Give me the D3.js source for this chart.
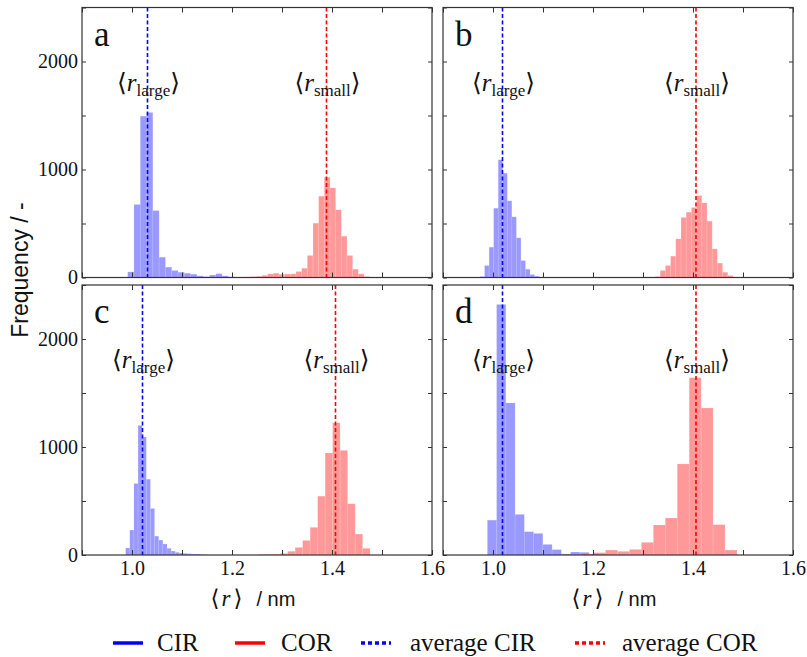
<!DOCTYPE html>
<html>
<head>
<meta charset="utf-8">
<script src="https://cdn.jsdelivr.net/npm/d3@7"></script>
<style>
  html, body { margin: 0; padding: 0; background: #fff; }
  svg { display: block; }
  .serif { font-family: "Liberation Serif", "Times New Roman", "DejaVu Serif", serif; }
  .sans { font-family: "Liberation Sans", Arial, sans-serif; }
</style>
</head>
<body>
<script>
// ---------------- DATA ----------------
const panelLetters = ["a", "b", "c", "d"];

// CIR histograms (blue): first bin start, bin width, counts
const cirStart = [0.9913, 0.974, 0.9873, 0.9887];
const cirWidth = [0.0126, 0.0091, 0.00827, 0.0185];
const cirCounts = [
  [52, 676, 1494, 1528, 620, 188, 96, 65, 49, 40, 31, 15, 9, 23, 35, 15, 6, 4, 3, 2, 2],
  [9, 111, 281, 642, 1090, 966, 710, 562, 367, 157, 77, 28, 12, 5, 2],
  [65, 231, 662, 1200, 1092, 702, 431, 175, 138, 102, 62, 37, 25, 18, 15, 12, 9, 9, 5, 3],
  [323, 2320, 1408, 376, 216, 200, 98, 50, 10, 28, 25, 8, 4]
];

// COR histograms (red)
const corStart = [1.2147, 1.3136, 1.2513, 1.1773];
const corWidth = [0.01133, 0.0104, 0.015, 0.0239];
const corCounts = [
  [5, 6, 8, 12, 20, 34, 40, 30, 32, 34, 55, 86, 204, 503, 753, 929, 830, 627, 383, 204, 77, 34, 9],
  [3, 9, 65, 111, 198, 358, 556, 605, 648, 759, 691, 522, 265, 133, 49, 19],
  [6, 7, 9, 14, 35, 70, 135, 256, 545, 945, 1225, 969, 474, 194, 62],
  [10, 22, 46, 34, 52, 117, 278, 343, 843, 1642, 1361, 281, 46]
];

// averages (dashed lines)
const cirMean = [1.031, 1.019, 1.021, 1.019];
const corMean = [1.389, 1.406, 1.407, 1.406];

const xDomain = [0.9, 1.6];
const yDomain = [0, 2500];
const xTickLabels = [1.0, 1.2, 1.4, 1.6];
const xMinorTicks = [0.9, 1.0, 1.1, 1.2, 1.3, 1.4, 1.5, 1.6];
const yTickLabels = [0, 1000, 2000];
const yMinorTicks = [0, 500, 1000, 1500, 2000, 2500];

const legendLabels = ["CIR", "COR", "average CIR", "average COR"];

// ---------------- LAYOUT ----------------
const W = 807, H = 657;
const panelLeft = [82, 443, 82, 443];
const panelTop = [7.5, 7.5, 285, 285];
const PW = 350, PH = 270;
const BLUE = "#0000ff", RED = "#ff0000";

const svg = d3.select("body").append("svg").attr("width", W).attr("height", H);

panelLetters.forEach((letter, i) => {
  const L = panelLeft[i], T = panelTop[i];
  const x = d3.scaleLinear().domain(xDomain).range([L, L + PW]);
  const y = d3.scaleLinear().domain(yDomain).range([T + PH, T]);
  const g = svg.append("g");

  const clipId = "clip" + i;
  svg.append("clipPath").attr("id", clipId).append("rect")
    .attr("x", L).attr("y", T).attr("width", PW).attr("height", PH);

  const bars = g.append("g").attr("clip-path", `url(#${clipId})`);

  const cirBins = cirCounts[i].map((c, k) => ({ x0: cirStart[i] + k * cirWidth[i], x1: cirStart[i] + (k + 1) * cirWidth[i], c }));
  const corBins = corCounts[i].map((c, k) => ({ x0: corStart[i] + k * corWidth[i], x1: corStart[i] + (k + 1) * corWidth[i], c }));

  bars.selectAll("rect.cir").data(cirBins).join("rect").attr("class", "cir")
    .attr("x", d => x(d.x0)).attr("width", d => x(d.x1) - x(d.x0))
    .attr("y", d => y(d.c)).attr("height", d => y(0) - y(d.c))
    .attr("fill", BLUE).attr("fill-opacity", 0.4)
    .attr("stroke", "#fff").attr("stroke-opacity", 0.22).attr("stroke-width", 0.6);

  bars.selectAll("rect.cor").data(corBins).join("rect").attr("class", "cor")
    .attr("x", d => x(d.x0)).attr("width", d => x(d.x1) - x(d.x0))
    .attr("y", d => y(d.c)).attr("height", d => y(0) - y(d.c))
    .attr("fill", RED).attr("fill-opacity", 0.4)
    .attr("stroke", "#fff").attr("stroke-opacity", 0.22).attr("stroke-width", 0.6);

  // dashed average lines
  [[cirMean[i], BLUE], [corMean[i], RED]].forEach(([m, col]) => {
    g.append("line").attr("x1", x(m)).attr("x2", x(m)).attr("y1", T).attr("y2", T + PH)
      .attr("stroke", col).attr("stroke-width", 1.6).attr("stroke-dasharray", "4,2.5");
  });

  // ticks (inward, mirrored)
  const tickStyle = sel => { sel.select(".domain").remove(); sel.selectAll("line").attr("stroke", "#333"); };
  g.append("g").attr("transform", `translate(0,${T + PH})`)
    .call(d3.axisBottom(x).tickValues(xMinorTicks).tickSize(-5).tickFormat("")).call(tickStyle);
  g.append("g").attr("transform", `translate(0,${T})`)
    .call(d3.axisTop(x).tickValues(xMinorTicks).tickSize(-5).tickFormat("")).call(tickStyle);
  g.append("g").attr("transform", `translate(${L},0)`)
    .call(d3.axisLeft(y).tickValues(yMinorTicks).tickSize(-4).tickFormat("")).call(tickStyle);
  g.append("g").attr("transform", `translate(${L + PW},0)`)
    .call(d3.axisRight(y).tickValues(yMinorTicks).tickSize(-4).tickFormat("")).call(tickStyle);

  // frame
  g.append("rect").attr("x", L).attr("y", T).attr("width", PW).attr("height", PH)
    .attr("fill", "none").attr("stroke", "#333").attr("stroke-width", 1.2);

  // y tick labels on left panels
  if (i % 2 === 0) {
    const ya = g.append("g").attr("transform", `translate(${L - 4},0)`)
      .call(d3.axisLeft(y).tickValues(yTickLabels).tickSize(0).tickPadding(0).tickFormat(d3.format("d")));
    ya.select(".domain").remove();
    ya.attr("font-family", null).attr("font-size", null);
    ya.selectAll("text").attr("class", "serif").style("font-size", "20px").attr("fill", "#111");
  }
  // x tick labels on bottom panels
  if (i >= 2) {
    const xa = g.append("g").attr("transform", `translate(0,${T + PH + 6})`)
      .call(d3.axisBottom(x).tickValues(xTickLabels).tickSize(0).tickPadding(0).tickFormat(d3.format(".1f")));
    xa.select(".domain").remove();
    xa.attr("font-family", null).attr("font-size", null);
    xa.selectAll("text").attr("class", "serif").style("font-size", "20px").attr("fill", "#111");

    const xt = g.append("text").attr("x", L + PW / 2 - 4).attr("y", 606)
      .attr("text-anchor", "middle").attr("fill", "#111");
    xt.append("tspan").attr("class", "serif").style("font-size", "23px").text("\u27E8");
    xt.append("tspan").attr("class", "serif").style("font-size", "23px").style("font-style", "italic").attr("dx", 2).text("r");
    xt.append("tspan").attr("class", "serif").style("font-size", "23px").attr("dx", 3).text("\u27E9");
    xt.append("tspan").attr("class", "sans").style("font-size", "20px").attr("dx", 14).text("/ nm");
  }

  // panel letter
  g.append("text").attr("x", L + 12).attr("y", T + 38).attr("class", "serif")
    .style("font-size", "35px").attr("fill", "#111").text(letter);

  // annotations
  [[cirMean[i], "large"], [corMean[i], "small"]].forEach(([m, sub]) => {
    const t = g.append("text").attr("x", x(m) + 1).attr("y", T + 83).attr("text-anchor", "middle")
      .attr("class", "serif").style("font-size", "25px").attr("fill", "#111");
    t.append("tspan").text("\u27E8");
    t.append("tspan").style("font-style", "italic").text("r");
    t.append("tspan").style("font-size", "17px").attr("dy", 5).text(sub);
    t.append("tspan").attr("dy", -5).text("\u27E9");
  });
});

// y axis title
svg.append("text").attr("transform", "translate(28,270) rotate(-90)")
  .attr("text-anchor", "middle").attr("class", "sans").style("font-size", "23px").attr("fill", "#111")
  .text("Frequency / -");

// legend
const legendLineX = [113, 235, 361, 575];
const legendTextX = [157, 281, 410, 622];
const legendColors = [BLUE, RED, BLUE, RED];
const legendDash = [null, null, "4,3", "4,3"];
const lg = svg.append("g");
legendLabels.forEach((lab, k) => {
  lg.append("line").attr("x1", legendLineX[k]).attr("x2", legendLineX[k] + 30)
    .attr("y1", 643).attr("y2", 643).attr("stroke", legendColors[k]).attr("stroke-width", 3.5)
    .attr("stroke-dasharray", legendDash[k]);
  lg.append("text").attr("x", legendTextX[k]).attr("y", 651).attr("class", "serif")
    .style("font-size", "25px").attr("fill", "#111").text(lab);
});
</script>
</body>
</html>
